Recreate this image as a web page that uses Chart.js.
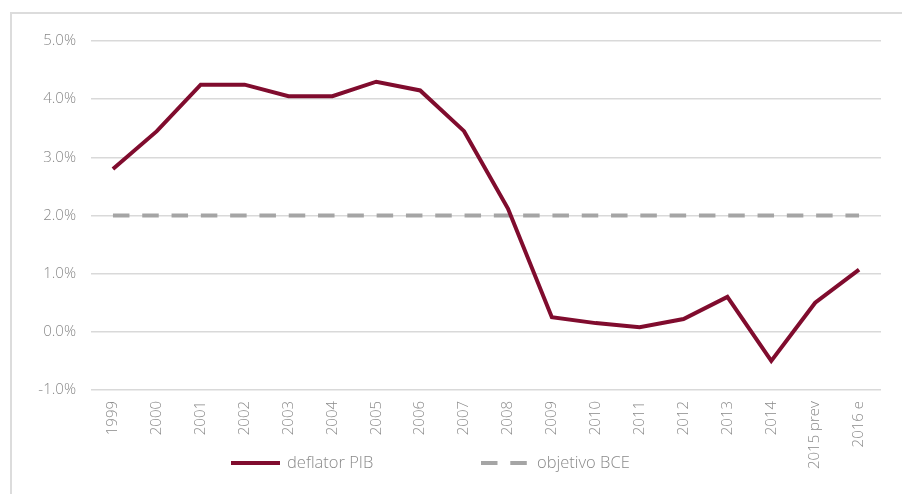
<!DOCTYPE html>
<html>
<head>
<meta charset="utf-8">
<script src="https://cdn.jsdelivr.net/npm/chart.js@4.4.1/dist/chart.umd.min.js"></script>
<style>
  html, body { margin: 0; padding: 0; background: #ffffff; }
  #wrap { position: relative; width: 902px; height: 494px; overflow: hidden; }
  #frame { position: absolute; left: 10px; top: 12px; width: 1000px; height: 600px;
           border-left: 2px solid #dcdcdc; border-top: 2px solid #dcdcdc; }
  #c { position: absolute; left: 0; top: 0; }
</style>
</head>
<body>
<div id="wrap">
  <div id="frame"></div>
  <canvas id="c" width="902" height="494"></canvas>
</div>
<script>
// Years (with forecast / estimate labels)
const categories = ['1999','2000','2001','2002','2003','2004','2005','2006','2007','2008',
                    '2009','2010','2011','2012','2013','2014','2015 prev','2016 e'];
// GDP deflator, % change
const deflatorPIB = [2.8, 3.45, 4.25, 4.25, 4.05, 4.05, 4.3, 4.15, 3.45, 2.12,
                     0.25, 0.15, 0.08, 0.22, 0.6, -0.5, 0.5, 1.07];
// ECB inflation target
const objetivoBCE = categories.map(() => 2.0);
// Y axis ticks (%)
const yTicks = [-1, 0, 1, 2, 3, 4, 5];

const FONT = '"Open Sans", Roboto, sans-serif';
const TEXT = '#8a8a8a';

// Legend drawn as a row under the axis: line swatch + label
const bottomLegend = {
  id: 'bottomLegend',
  afterDraw(chart) {
    const ctx = chart.ctx;
    const starts = [231, 481];
    const y = 463;
    ctx.save();
    chart.data.datasets.forEach((ds, i) => {
      const x = starts[i];
      ctx.beginPath();
      ctx.setLineDash(ds.borderDash || []);
      ctx.lineDashOffset = 0;
      ctx.lineWidth = ds.borderWidth;
      ctx.strokeStyle = ds.borderColor;
      ctx.lineCap = 'butt';
      ctx.moveTo(x, y);
      ctx.lineTo(x + 49, y);
      ctx.stroke();
      ctx.setLineDash([]);
      ctx.fillStyle = TEXT;
      ctx.font = '300 16.5px ' + FONT;
      ctx.textBaseline = 'middle';
      ctx.textAlign = 'left';
      ctx.fillText(ds.label, x + 56, y);
    });
    ctx.restore();
  }
};

new Chart(document.getElementById('c'), {
  type: 'line',
  data: {
    labels: categories,
    datasets: [
      {
        label: 'deflator PIB',
        data: deflatorPIB,
        borderColor: '#800c2e',
        borderWidth: 4,
        pointRadius: 0,
        tension: 0,
        borderJoinStyle: 'miter',
        order: 1
      },
      {
        label: 'objetivo BCE',
        data: objetivoBCE,
        borderColor: '#a5a5a5',
        borderWidth: 4,
        borderDash: [16.5, 12.8],
        borderCapStyle: 'butt',
        pointRadius: 0,
        tension: 0,
        order: 2
      }
    ]
  },
  options: {
    responsive: false,
    animation: false,
    layout: { padding: { left: 0, top: 41, right: 21, bottom: 0 } },
    plugins: {
      legend: { display: false },
      tooltip: { enabled: false }
    },
    scales: {
      x: {
        type: 'category',
        offset: true,
        grid: { display: false, drawTicks: false },
        border: { display: false },
        ticks: {
          color: TEXT,
          font: { family: FONT, size: 15, weight: '300' },
          minRotation: 90,
          maxRotation: 90,
          autoSkip: false,
          padding: 11
        },
        afterFit(scale) { scale.height = 104; }
      },
      y: {
        min: -1,
        max: 5,
        afterBuildTicks(scale) { scale.ticks = yTicks.map(v => ({ value: v })); },
        grid: { color: '#d9d9d9', lineWidth: 1.5, drawTicks: false },
        border: { display: false },
        ticks: {
          color: TEXT,
          font: { family: FONT, size: 15, weight: '300' },
          padding: 15,
          callback: v => v.toFixed(1) + '%'
        },
        afterFit(scale) { scale.width = 91; }
      }
    }
  },
  plugins: [bottomLegend]
});
</script>
</body>
</html>
